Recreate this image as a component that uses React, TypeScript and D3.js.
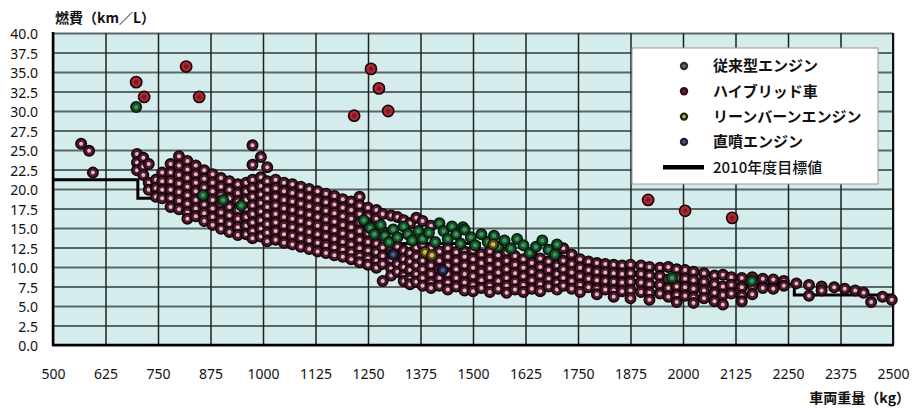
import React, { useEffect, useRef } from 'react'
import * as d3 from 'd3'

// axis ticks
const xTicks = [500, 625, 750, 875, 1000, 1125, 1250, 1375, 1500, 1625, 1750, 1875, 2000, 2125, 2250, 2375, 2500]
const yTicks = [0, 2.5, 5, 7.5, 10, 12.5, 15, 17.5, 20, 22.5, 25, 27.5, 30, 32.5, 35, 37.5, 40]

// 2010 target: [from weight, km/L]
const targetSteps: [number, number][] = [
	[500, 21.2], [702, 18.8], [827, 17.9], [1015, 16.0], [1265, 13.0],
	[1515, 10.5], [1765, 8.9], [2015, 7.8], [2265, 6.4], [2500, 6.4],
]

// conventional engines, by weight column: [kg, km/L values]
const conventional: [number, number[]][] = [
	[567, [25.8]], [586, [24.9]], [595, [22.1]],
	[700, [24.5, 23.4, 22.4]], [715, [24.0, 22.9, 21.8]], [728, [23.2, 20.8, 19.9]],
	[745, [21.2, 20.1, 19.0]], [760, [22.1, 21.0, 19.9, 18.8]],
	[780, [23.2, 22.1, 21.0, 19.9, 18.8, 17.7]],
	[800, [24.2, 23.0, 21.8, 20.7, 19.6, 18.5, 17.4]],
	[820, [23.6, 22.5, 21.4, 20.3, 19.2, 18.1, 17.0, 16.2]],
	[840, [23.0, 21.9, 20.8, 19.7, 18.6, 17.5, 16.5]],
	[860, [22.4, 21.3, 20.2, 19.1, 18.0, 16.9, 15.9]],
	[880, [21.9, 20.8, 19.7, 18.6, 17.5, 16.4, 15.4]],
	[900, [21.4, 20.3, 19.2, 18.1, 17.0, 15.9, 14.9]],
	[920, [21.0, 19.9, 18.8, 17.7, 16.6, 15.5, 14.5]],
	[940, [20.6, 19.5, 18.4, 17.3, 16.2, 15.1, 14.1]],
	[960, [20.8, 19.7, 18.6, 17.5, 16.4, 15.3, 14.2]],
	[975, [25.6, 23.1, 21.2, 20.1, 19.0, 17.9, 16.8, 15.7, 14.6, 13.7]],
	[995, [24.1, 21.5, 20.4, 19.3, 18.2, 17.1, 16.0, 14.9, 13.9]],
	[1010, [22.8, 21.0, 19.9, 18.8, 17.7, 16.6, 15.5, 14.4, 13.3]],
	[1030, [21.2, 20.1, 19.0, 17.9, 16.8, 15.7, 14.6, 13.5]],
	[1050, [20.8, 19.7, 18.6, 17.5, 16.4, 15.3, 14.2, 13.1]],
	[1070, [20.6, 19.5, 18.4, 17.3, 16.2, 15.1, 14.0, 12.9]],
	[1090, [20.3, 19.2, 18.1, 17.0, 15.9, 14.8, 13.7, 12.6]],
	[1110, [20.0, 18.9, 17.8, 16.7, 15.6, 14.5, 13.4, 12.3]],
	[1130, [19.7, 18.6, 17.5, 16.4, 15.3, 14.2, 13.1, 12.0]],
	[1150, [19.4, 18.3, 17.2, 16.1, 15.0, 13.9, 12.8, 11.8]],
	[1170, [19.1, 18.0, 16.9, 15.8, 14.7, 13.6, 12.5, 11.5]],
	[1190, [18.7, 17.6, 16.5, 15.4, 14.3, 13.2, 12.2, 11.3]],
	[1210, [18.4, 17.3, 16.2, 15.1, 14.0, 12.9, 11.9, 11.0]],
	[1230, [19.0, 17.9, 16.8, 15.7, 14.6, 13.5, 12.4, 11.4, 10.6]],
	[1250, [17.6, 16.5, 15.4, 14.3, 13.2, 12.1, 11.1, 10.3]],
	[1270, [17.3, 16.2, 15.1, 13.0, 11.9, 10.8, 9.9]],
	[1285, [16.8, 14.6, 12.5, 11.4, 10.4, 8.2]],
	[1305, [16.6, 13.1, 12.0, 10.9, 9.8, 8.9]],
	[1320, [16.4, 12.6, 11.5, 10.4, 9.4]],
	[1335, [16.0, 12.1, 11.0, 10.0, 8.9, 8.2]],
	[1350, [15.6, 11.8, 10.7, 9.6, 8.5, 7.8]],
	[1365, [16.3, 12.5, 11.3, 10.2, 9.1, 8.1]],
	[1380, [15.9, 12.9, 10.8, 9.7, 8.6, 7.6]],
	[1400, [15.3, 12.4, 11.2, 10.2, 9.1, 8.0, 7.3]],
	[1420, [12.0, 10.8, 9.7, 8.6, 7.6]],
	[1440, [12.4, 11.3, 10.2, 9.1, 8.0, 7.1]],
	[1460, [11.9, 10.8, 9.7, 8.6, 7.5]],
	[1480, [12.0, 11.3, 10.2, 9.1, 8.0, 7.0]],
	[1500, [12.1, 11.0, 9.9, 8.8, 7.7, 6.9]],
	[1520, [11.6, 10.5, 9.4, 8.3, 7.3]],
	[1540, [12.0, 10.9, 9.8, 8.7, 7.6, 6.8]],
	[1560, [11.5, 10.4, 9.3, 8.2, 7.2]],
	[1580, [11.9, 10.8, 9.7, 8.6, 7.6, 6.7]],
	[1600, [11.4, 10.3, 9.2, 8.1, 7.1]],
	[1620, [11.0, 9.9, 8.8, 7.7, 6.8]],
	[1640, [11.6, 10.5, 9.4, 8.3, 7.2]],
	[1660, [11.1, 10.0, 8.9, 7.8, 6.9]],
	[1680, [10.7, 9.6, 8.5, 7.5]],
	[1700, [11.3, 10.2, 9.1, 8.0, 7.1]],
	[1715, [12.4, 10.8, 9.7, 8.6, 7.6]],
	[1735, [11.6, 10.4, 9.3, 8.2, 7.2]],
	[1755, [11.0, 9.9, 8.8, 7.7, 6.8]],
	[1775, [10.7, 9.6, 8.5, 7.4]],
	[1795, [10.5, 9.4, 8.3, 7.2, 6.5]],
	[1815, [10.4, 9.3, 8.2, 7.1]],
	[1835, [10.3, 9.2, 8.1, 7.0, 6.2]],
	[1855, [10.2, 9.1, 8.0, 6.9]],
	[1875, [10.3, 9.2, 8.1, 7.0, 6.0]],
	[1900, [10.2, 9.1, 8.0, 6.8]],
	[1920, [10.0, 8.9, 7.8, 6.7, 5.8]],
	[1945, [9.9, 8.8, 7.7, 6.6]],
	[1965, [10.0, 8.4, 7.3, 6.2]],
	[1985, [9.7, 8.6, 7.5, 6.4, 5.5]],
	[2005, [9.6, 8.5, 7.4, 6.3]],
	[2025, [9.4, 8.3, 7.2, 6.1, 5.4]],
	[2050, [9.2, 8.1, 7.0, 6.0]],
	[2075, [8.9, 7.8, 6.7, 5.6]],
	[2095, [9.0, 7.5, 6.4, 5.2]],
	[2115, [8.7, 7.7, 6.6]],
	[2140, [8.6, 7.4, 6.3, 5.6]],
	[2165, [8.7, 7.6, 6.5]],
	[2190, [8.5, 7.3]], [2215, [8.4, 7.2]], [2240, [8.2, 7.6]],
	[2270, [7.9]], [2300, [7.7, 6.3]], [2330, [7.5, 7.0]], [2360, [7.4]],
	[2385, [7.2]], [2410, [7.0]], [2430, [6.7]], [2448, [5.5]], [2475, [6.2]], [2497, [5.8]],
]

// hybrid cars
const hybrid: [number, number][] = [
	[698, 33.7], [717, 31.8], [817, 35.7], [848, 31.8], [1217, 29.4],
	[1257, 35.4], [1276, 32.9], [1298, 30.0], [1917, 18.6], [2005, 17.2], [2117, 16.3],
]

// lean burn engines
const leanBurn: [number, number][] = [
	[698, 30.5], [857, 19.2], [905, 18.6], [948, 17.9],
	[1240, 16.0], [1255, 15.0], [1265, 14.2], [1280, 15.4], [1290, 14.0], [1300, 13.2],
	[1310, 14.8], [1320, 13.8], [1335, 15.2], [1345, 14.2], [1355, 13.4], [1370, 14.6],
	[1380, 13.6], [1395, 14.4], [1410, 13.2], [1420, 15.6], [1430, 14.6], [1440, 13.6],
	[1450, 15.2], [1460, 14.2], [1470, 13.0], [1476, 15.1], [1480, 14.8], [1495, 13.8],
	[1505, 12.8], [1520, 14.2], [1535, 13.2], [1550, 14.0], [1560, 12.6], [1575, 13.4],
	[1590, 12.4], [1605, 13.6], [1620, 12.8], [1635, 11.8], [1650, 12.6], [1665, 13.4],
	[1680, 12.2], [1695, 11.6], [1700, 12.9], [1974, 8.6], [2164, 8.2],
]
const leanBurnYellow: [number, number][] = [[1386, 11.9], [1402, 11.5], [1548, 12.9]]

// direct injection engines
const directInjection: [number, number][] = [[1428, 9.6], [1310, 11.6]]

const legendLabels = ['従来型エンジン', 'ハイブリッド車', 'リーンバーンエンジン', '直噴エンジン', '2010年度目標値']

const JP = '"Noto Sans CJK JP", "Noto Sans", sans-serif'

function drawChart(node: SVGSVGElement) {
	const svg = d3.select(node)
	svg.selectAll('*').remove()

	const x = d3.scaleLinear().domain([500, 2500]).range([53, 893])
	const y = d3.scaleLinear().domain([0, 40]).range([345, 33])
	const w = 893 - 53
	const h = 345 - 33

	svg.append('rect').attr('width', 913).attr('height', 409).attr('fill', '#ffffff')
	svg.append('rect').attr('x', 53).attr('y', 33).attr('width', w).attr('height', h).attr('fill', '#d4ecec')

	// horizontal grid
	const hGrid = svg.append('g').attr('transform', 'translate(53,0)')
		.call(d3.axisLeft(y).tickValues(yTicks).tickSize(-w).tickFormat(() => ''))
	hGrid.select('.domain').remove()
	hGrid.selectAll('line').attr('stroke', '#5d6666').attr('stroke-width', 1.8)

	// vertical grid
	const vGrid = svg.append('g').attr('transform', 'translate(0,345)')
		.call(d3.axisBottom(x).tickValues(xTicks).tickSize(-h).tickFormat(() => ''))
	vGrid.select('.domain').remove()
	vGrid.selectAll('line').attr('stroke', '#1e2222').attr('stroke-width', 1.5)

	// frame
	svg.append('line').attr('x1', 53).attr('x2', 53).attr('y1', 32).attr('y2', 346).attr('stroke', '#000').attr('stroke-width', 2.5)
	svg.append('line').attr('x1', 52).attr('x2', 894).attr('y1', 345).attr('y2', 345).attr('stroke', '#000').attr('stroke-width', 2.5)
	svg.append('line').attr('x1', 893).attr('x2', 893).attr('y1', 33).attr('y2', 346).attr('stroke', '#111').attr('stroke-width', 2)

	// tick labels
	const yAxis = svg.append('g').attr('transform', 'translate(53,0)')
		.call(d3.axisLeft(y).tickValues(yTicks).tickSize(0).tickPadding(15).tickFormat(d3.format('.1f')))
	yAxis.select('.domain').remove()
	yAxis.selectAll('text').attr('font-family', '"Noto Sans", sans-serif').attr('font-size', 14).attr('fill', '#111').attr('dy', '0.4em')

	const xAxis = svg.append('g').attr('transform', 'translate(0,345)')
		.call(d3.axisBottom(x).tickValues(xTicks).tickSize(0).tickPadding(24).tickFormat(d3.format('d')))
	xAxis.select('.domain').remove()
	xAxis.selectAll('text').attr('font-family', '"Noto Sans", sans-serif').attr('font-size', 14).attr('fill', '#111')

	// target line
	const line = d3.line<[number, number]>().x((d) => x(d[0])).y((d) => y(d[1])).curve(d3.curveStepAfter)
	svg.append('path').attr('d', line(targetSteps)).attr('fill', 'none').attr('stroke', '#000').attr('stroke-width', 3)

	const drawDots = (pts: [number, number][], r: number, outer: string, rim: string, inner: string, ri: number) => {
		const g = svg.append('g')
		const groups = g.selectAll('g').data(pts).enter().append('g')
		groups.append('circle')
			.attr('cx', (d) => x(d[0])).attr('cy', (d) => y(d[1])).attr('r', r)
			.attr('fill', outer).attr('stroke', rim).attr('stroke-width', 1.6)
		groups.append('circle')
			.attr('cx', (d) => x(d[0])).attr('cy', (d) => y(d[1])).attr('r', ri)
			.attr('fill', inner)
	}

	const convPts: [number, number][] = conventional.flatMap(([kg, vals]) => vals.map((v) => [kg, v] as [number, number]))
	drawDots(convPts, 5.2, '#4e1a2c', '#14050a', '#e6b6ca', 2.0)
	drawDots(leanBurn, 5.2, '#175028', '#081a0e', '#3a9a58', 2.2)
	drawDots(leanBurnYellow, 5.2, '#5a4c18', '#1e1a08', '#d8c04a', 2.2)
	drawDots(directInjection, 5.2, '#22243e', '#0a0a18', '#5a5a90', 2.2)
	drawDots(hybrid, 5.6, '#a82a36', '#1c0406', '#7e1620', 2.2)

	// legend
	const lg = svg.append('g')
	lg.append('rect').attr('x', 632).attr('y', 48).attr('width', 246).attr('height', 136)
		.attr('fill', '#fff').attr('stroke', '#9a9a9a').attr('stroke-width', 1)
	const markerStyles = [
		['#2e2e2e', '#7a6a70'],
		['#3a0c14', '#702030'],
		['#23230e', '#b4bc3c'],
		['#1c2232', '#4a5a80'],
	]
	legendLabels.forEach((label, i) => {
		const cy = 66 + i * 25.3
		if (i < 4) {
			lg.append('circle').attr('cx', 684).attr('cy', cy).attr('r', 4.2).attr('fill', markerStyles[i][0])
			lg.append('circle').attr('cx', 684).attr('cy', cy).attr('r', 1.8).attr('fill', markerStyles[i][1])
		} else {
			lg.append('line').attr('x1', 663).attr('x2', 704).attr('y1', cy).attr('y2', cy)
				.attr('stroke', '#000').attr('stroke-width', 4.5)
		}
		lg.append('text').attr('x', 713).attr('y', cy).attr('dy', '0.36em')
			.attr('font-family', JP).attr('font-size', 15).attr('font-weight', i < 4 ? 700 : 500)
			.attr('fill', '#111').text(label)
	})

	// axis titles
	svg.append('text').attr('x', 55).attr('y', 23).attr('font-family', JP).attr('font-size', 14)
		.attr('font-weight', 700).attr('fill', '#111').text('燃費（km／L）')
	svg.append('text').attr('x', 910).attr('y', 403).attr('text-anchor', 'end').attr('font-family', JP)
		.attr('font-size', 14).attr('font-weight', 700).attr('fill', '#111').text('車両重量（kg）')
}

export default function App() {
	const ref = useRef<SVGSVGElement>(null)

	useEffect(() => {
		if (ref.current) drawChart(ref.current)
	}, [])

	return (
		<div style={{ position: 'absolute', left: 0, top: 0 }}>
			<svg ref={ref} width={913} height={409} style={{ display: 'block' }} />
		</div>
	)
}
